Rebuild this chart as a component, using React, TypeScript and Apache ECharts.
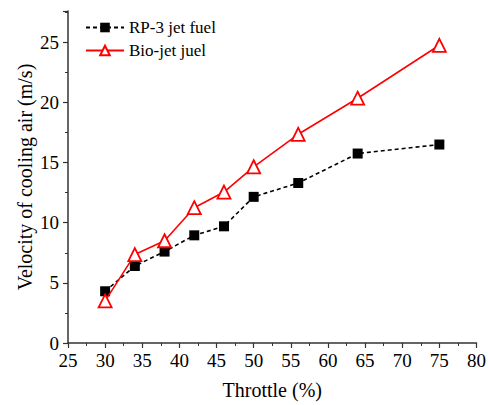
import React, { useEffect, useRef } from "react";
import * as echarts from "echarts";

const throttle = [30, 34, 38, 42, 46, 50, 56, 64, 75];
const rp3 = [4.3, 6.4, 7.6, 8.95, 9.7, 12.15, 13.3, 15.75, 16.5];
const bio = [3.5, 7.35, 8.5, 11.25, 12.55, 14.65, 17.35, 20.35, 24.75];
const seriesNames = ["RP-3 jet fuel", "Bio-jet juel"];

const FONT = "Liberation Serif";

export default function App() {
  const ref = useRef<HTMLDivElement>(null);
  useEffect(() => {
    if (!ref.current) return;
    const chart = echarts.init(ref.current, null, { renderer: "svg" });
    const axisLine = { show: true, lineStyle: { color: "#333", width: 1.5 } };
    const axisTick = { show: true, inside: false, length: 5, lineStyle: { color: "#333", width: 1.2 } };
    const minorTick = { show: true, splitNumber: 2, length: 3, lineStyle: { color: "#333", width: 1 } };
    chart.setOption({
      animation: false,
      backgroundColor: "#fff",
      textStyle: { fontFamily: FONT },
      grid: { left: 68, right: 8, top: 11, bottom: 61, containLabel: false },
      legend: {
        orient: "vertical",
        left: 80,
        top: 14,
        itemWidth: 38,
        itemHeight: 12,
        itemGap: 6,
        textStyle: { color: "#000", fontFamily: FONT, fontSize: 17 },
        data: seriesNames,
      },
      xAxis: {
        type: "value",
        min: 25,
        max: 80,
        interval: 5,
        name: "Throttle (%)",
        nameLocation: "middle",
        nameGap: 37,
        nameMoveOverlap: false,
        nameTextStyle: { color: "#000", fontFamily: FONT, fontSize: 20 },
        axisLine,
        axisTick,
        minorTick,
        splitLine: { show: false },
        axisLabel: { color: "#000", fontFamily: FONT, fontSize: 19, margin: 8 },
      },
      yAxis: {
        type: "value",
        min: 0,
        max: 27.6,
        interval: 5,
        name: "Velocity of cooling air (m/s)",
        nameLocation: "middle",
        nameGap: 33,
        nameMoveOverlap: false,
        nameTextStyle: { color: "#000", fontFamily: FONT, fontSize: 20 },
        axisLine,
        axisTick,
        minorTick,
        splitLine: { show: false },
        axisLabel: { color: "#000", fontFamily: FONT, fontSize: 19, margin: 9, showMaxLabel: false },
      },
      series: [
        {
          name: seriesNames[0],
          type: "line",
          data: throttle.map((t, i) => [t, rp3[i]]),
          symbol: "rect",
          symbolSize: 10,
          itemStyle: { color: "#000" },
          lineStyle: { color: "#000", width: 1.6, type: [4, 3] },
          z: 2,
        },
        {
          name: seriesNames[1],
          type: "line",
          data: throttle.map((t, i) => [t, bio[i]]),
          symbol: "triangle",
          symbolSize: 13,
          itemStyle: { color: "#fff", borderColor: "#ff0000", borderWidth: 1.8 },
          lineStyle: { color: "#ff0000", width: 1.6 },
          z: 3,
        },
      ],
    });
    return () => chart.dispose();
  }, []);
  return <div ref={ref} style={{ width: 489, height: 405, position: "absolute", left: 0, top: 0 }} />;
}
